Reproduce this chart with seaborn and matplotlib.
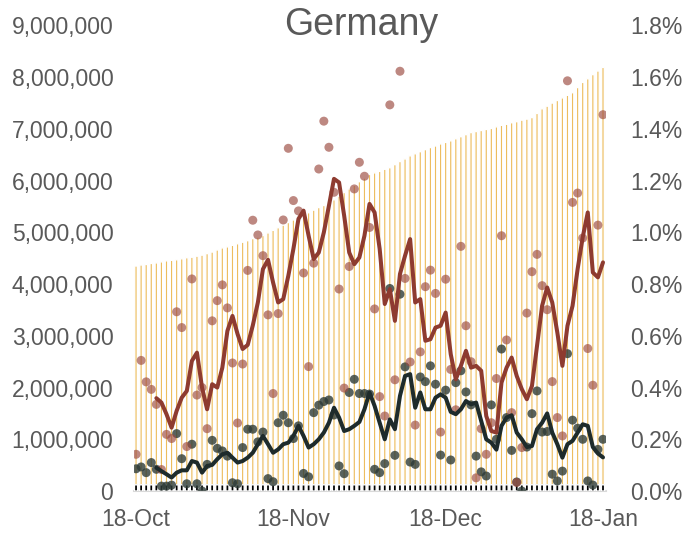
import numpy as np
import pandas as pd
import matplotlib
matplotlib.use("Agg")
import matplotlib.pyplot as plt
import seaborn as sns
from matplotlib.ticker import FuncFormatter

# day index 0 = 18-Oct ... 92 = 18-Jan
tick_days = [0, 31, 61, 92]
tick_labels = ['18-Oct', '18-Nov', '18-Dec', '18-Jan']

# yellow bars, millions (left axis)
bars_m = [4.35, 4.37, 4.38, 4.40, 4.41, 4.43, 4.45, 4.46, 4.47, 4.49,
          4.51, 4.52, 4.54, 4.56, 4.59, 4.62, 4.66, 4.70, 4.72, 4.75,
          4.78, 4.81, 4.84, 4.88, 4.91, 4.94, 4.99, 5.04, 5.09, 5.14,
          5.19, 5.24, 5.29, 5.33, 5.38, 5.43, 5.48, 5.52, 5.57, 5.63,
          5.70, 5.77, 5.84, 5.91, 5.98, 6.05, 6.12, 6.15, 6.18, 6.22,
          6.25, 6.31, 6.37, 6.42, 6.48, 6.52, 6.56, 6.60, 6.64, 6.67,
          6.71, 6.74, 6.77, 6.81, 6.85, 6.89, 6.93, 6.95, 6.97, 6.99,
          7.01, 7.04, 7.07, 7.09, 7.12, 7.14, 7.17, 7.19, 7.22, 7.30,
          7.39, 7.44, 7.50, 7.55, 7.60, 7.65, 7.70, 7.80, 7.90, 7.97,
          8.05, 8.12, 8.19]
# small black bars at the base, millions
base_m = [0.12] * 93

# dots and lines, percent (right axis)
red_dots = [0.142, 0.505, 0.422, 0.393, 0.335, 0.083, 0.219, 0.203, 0.693, 0.632,
            0.172, 0.820, 0.371, 0.400, 0.241, 0.658, 0.736, 0.797, 0.708, 0.495,
            0.263, 0.491, 0.853, 1.047, 0.990, 0.910, 0.681, 0.377, 0.686, 1.048,
            1.325, 1.123, 1.083, 0.843, 0.481, 0.881, 1.245, 1.430, 1.329, 1.155,
            0.781, 0.398, 0.868, 1.168, 1.271, 1.217, 1.019, 0.704, 0.365, 0.290,
            1.493, 0.430, 1.623, 0.822, 0.499, 0.255, 0.538, 0.790, 0.854, 0.764,
            0.228, 0.819, 0.470, 0.314, 0.946, 0.639, 0.500, 0.051, 0.241, 0.142,
            0.264, 0.435, 0.987, 0.584, 0.303, 0.033, 0.168, 0.688, 0.848, 0.915,
            0.794, 0.701, 0.423, 0.284, 0.213, 1.586, 1.116, 1.152, 0.978, 0.551,
            0.409, 1.028, 1.455]
grey_dots = [0.086, 0.093, 0.071, 0.110, 0.084, 0.019, 0.019, 0.023, 0.222, 0.125,
             0.028, 0.181, 0.028, 0.000, 0.103, 0.196, 0.165, 0.155, 0.135, 0.032,
             0.028, 0.168, 0.239, 0.239, 0.190, 0.228, 0.048, 0.036, 0.264, 0.293,
             0.264, 0.203, 0.252, 0.068, 0.055, 0.303, 0.332, 0.346, 0.352, 0.294,
             0.097, 0.067, 0.381, 0.432, 0.377, 0.377, 0.375, 0.084, 0.071, 0.106,
             0.783, 0.138, 0.761, 0.480, 0.112, 0.103, 0.441, 0.423, 0.484, 0.413,
             0.139, 0.390, 0.120, 0.419, 0.465, 0.383, 0.333, 0.135, 0.074, 0.058,
             0.333, 0.200, 0.549, 0.284, 0.157, 0.035, 0.000, 0.170, 0.299, 0.387,
             0.228, 0.230, 0.065, 0.039, 0.077, 0.531, 0.274, 0.243, 0.200, 0.039,
             0.023, 0.161, 0.200]
nan = np.nan
red_line = [nan, nan, nan, nan, 0.359, 0.342, 0.297, 0.245, 0.310, 0.361,
            0.387, 0.503, 0.535, 0.400, 0.316, 0.413, 0.400, 0.477, 0.619, 0.677,
            0.607, 0.549, 0.565, 0.640, 0.729, 0.858, 0.894, 0.806, 0.729, 0.742,
            0.832, 0.936, 1.052, 1.084, 0.987, 0.897, 0.922, 1.000, 1.103, 1.207,
            1.193, 1.065, 0.922, 0.877, 0.903, 0.987, 1.110, 1.077, 0.936, 0.723,
            0.781, 0.658, 0.839, 0.910, 0.974, 0.729, 0.742, 0.581, 0.587, 0.632,
            0.639, 0.690, 0.529, 0.432, 0.484, 0.542, 0.477, 0.484, 0.465, 0.290,
            0.232, 0.226, 0.419, 0.477, 0.516, 0.445, 0.394, 0.355, 0.406, 0.561,
            0.716, 0.787, 0.729, 0.613, 0.484, 0.639, 0.716, 0.858, 0.981, 1.077,
            0.845, 0.826, 0.884]
dark_line = [nan, nan, nan, nan, 0.090, 0.077, 0.065, 0.052, 0.071, 0.080,
             0.080, 0.116, 0.110, 0.071, 0.097, 0.101, 0.123, 0.142, 0.148, 0.129,
             0.110, 0.116, 0.129, 0.148, 0.181, 0.213, 0.181, 0.148, 0.161, 0.181,
             0.187, 0.213, 0.252, 0.213, 0.168, 0.181, 0.200, 0.226, 0.264, 0.322,
             0.284, 0.232, 0.239, 0.252, 0.267, 0.316, 0.381, 0.329, 0.264, 0.200,
             0.277, 0.239, 0.368, 0.445, 0.452, 0.322, 0.381, 0.316, 0.316, 0.361,
             0.374, 0.361, 0.306, 0.297, 0.316, 0.348, 0.335, 0.342, 0.271, 0.200,
             0.187, 0.160, 0.252, 0.284, 0.293, 0.226, 0.200, 0.170, 0.174, 0.239,
             0.264, 0.300, 0.226, 0.181, 0.129, 0.181, 0.194, 0.226, 0.258, 0.252,
             0.170, 0.145, 0.130]

days = np.arange(len(bars_m))
df = pd.DataFrame({'day': days, 'bars': np.array(bars_m) * 1e6, 'base': np.array(base_m) * 1e6,
                   'red': red_dots, 'grey': grey_dots, 'red_line': red_line, 'dark_line': dark_line})

sns.set_style('white')
plt.rcParams['font.family'] = ['Liberation Sans', 'DejaVu Sans']
txt = '#595959'

fig = plt.figure(figsize=(6.85, 5.35), dpi=100)
ax = fig.add_axes([0.1949, 0.0822, 0.6891, 0.8702])

sns.barplot(data=df, x='day', y='bars', color='#EDBD5E', saturation=1, width=0.5, ax=ax)
sns.barplot(data=df, x='day', y='base', color='#000000', saturation=1, width=0.62, ax=ax)
for p in ax.patches:
    p.set_snap(False)

ax2 = ax.twinx()
sns.scatterplot(data=df, x='day', y='grey', color='#2E3B36', alpha=0.8, s=42, edgecolor='none', ax=ax2, zorder=2)
sns.scatterplot(data=df, x='day', y='red', color='#9C4A40', alpha=0.66, s=42, edgecolor='none', ax=ax2, zorder=3)
sns.lineplot(data=df, x='day', y='dark_line', color='#1E2B2B', lw=2.9, ax=ax2, zorder=4)
sns.lineplot(data=df, x='day', y='red_line', color='#8E3B30', lw=2.9, ax=ax2, zorder=5)

ax.set_ylim(0, 9e6)
ax.set_yticks(np.arange(0, 9e6 + 1, 1e6))
ax.yaxis.set_major_formatter(FuncFormatter(lambda v, p: f'{v:,.0f}'))
ax2.set_ylim(0, 1.8)
ax2.set_yticks(np.arange(0, 1.81, 0.2))
ax2.yaxis.set_major_formatter(FuncFormatter(lambda v, p: f'{v:.1f}%'))

ax.set_xticks(tick_days)
ax.set_xticklabels(tick_labels)
ax.set_xlim(-0.5, 92.5)

for a in (ax, ax2):
    a.set_xlabel('')
    a.set_ylabel('')
    for s in a.spines.values():
        s.set_visible(False)
ax.spines['bottom'].set_visible(True)
ax.spines['bottom'].set_color('#D9D9D9')
ax.spines['bottom'].set_linewidth(1.5)
ax.spines['bottom'].set_zorder(0)

ax.tick_params(axis='x', colors='#D9D9D9', length=5, width=1.5, pad=7, labelsize=16.5, labelcolor=txt)
ax.tick_params(axis='y', length=0, pad=14.5, labelsize=16.5, labelcolor=txt)
ax2.tick_params(axis='y', length=0, pad=17.5, labelsize=16.5, labelcolor=txt)

fig.text(361 / 685, 1 - 25 / 535, 'Germany', ha='center', va='center', fontsize=27, color=txt)

fig.savefig('out.png', dpi=100)
